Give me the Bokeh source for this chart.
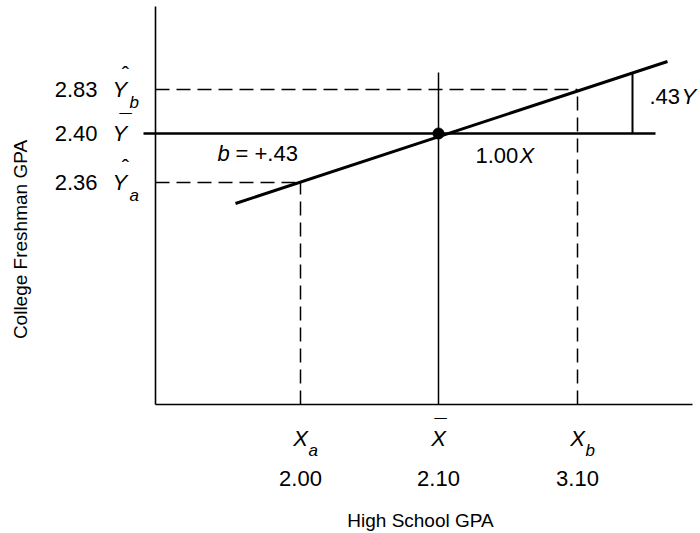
from bokeh.plotting import figure
from bokeh.models import Range1d, ColumnDataSource
from bokeh.core.properties import value
from bokeh.embed import file_html
from bokeh.resources import INLINE

# ---- data (schematic diagram units) ----
x_tick_labels = ["2.00", "2.10", "3.10"]
x_symbols = ["X", "X", "X"]
x_accents = ["", "\u00AF", ""]
x_subscripts = ["a", "", "b"]
x_marks = [145, 283, 422]          # Xa, X-bar, Xb

y_tick_labels = ["2.83", "2.40", "2.36"]
y_symbols = ["Y", "Y", "Y"]
y_accents = ["\u02C6", "\u00AF", "\u02C6"]
y_subscripts = ["b", "", "a"]
y_marks = [315, 271, 222]          # Yb-hat, Y-bar, Ya-hat

reg_x = [80, 512]                  # regression line end points
reg_y = [201, 343]
axis_x_end = 537
axis_y_end = 398

FONT = "Liberation Sans"
LAB = "22px"
SUB = "17px"

HAT = "\u02C6"

p = figure(width=700, height=533, x_range=Range1d(-155, 545), y_range=Range1d(-129, 404),
           x_axis_type=None, y_axis_type=None, toolbar_location=None,
           output_backend="svg", min_border=0, outline_line_color=None)
p.grid.visible = False

xa, xbar, xb = x_marks
yb, ybar, ya = y_marks

# axes
p.line([0, 0], [0, axis_y_end], line_color="black", line_width=1.6)
p.line([0, axis_x_end], [0, 0], line_color="black", line_width=1.6)

# Y-bar horizontal line
p.line([-12, 500], [ybar, ybar], line_color="black", line_width=2.6)

# regression line
p.line(reg_x, reg_y, line_color="black", line_width=3)

slope = (reg_y[1] - reg_y[0]) / (reg_x[1] - reg_x[0])
def reg_at(x):
    return reg_y[0] + slope * (x - reg_x[0])

# X-bar vertical solid line
p.line([xbar, xbar], [0, 332], line_color="black", line_width=1.5)

# dashed guides
dash = "14 7"
p.line([0, xb], [yb, yb], line_color="black", line_width=1.5, line_dash=dash)
p.line([xb, xb], [0, yb], line_color="black", line_width=1.5, line_dash=dash)
p.line([0, xa], [ya, ya], line_color="black", line_width=1.5, line_dash=dash)
p.line([xa, xa], [0, ya], line_color="black", line_width=1.5, line_dash=dash)

# .43Y rise segment
p.line([477, 477], [ybar, reg_at(477)], line_color="black", line_width=2)

# mean point
p.scatter([xbar], [ybar], size=11, color="black")

# y labels
ysrc = ColumnDataSource(dict(y=y_marks, lab=y_tick_labels, sym=y_symbols, acc=y_accents,
                             sub=y_subscripts, suby=[m - 13 for m in y_marks],
                             accy=[m + (15 if a == HAT else 11) for m, a in zip(y_marks, y_accents)]))
p.text(x=-58, y="y", text="lab", source=ysrc, text_align="right", text_baseline="middle",
       text_font=value(FONT), text_font_size=LAB, text_color="black")
p.text(x=-43, y="y", text="sym", source=ysrc, text_align="left", text_baseline="middle",
       text_font=value(FONT), text_font_style="italic", text_font_size=LAB, text_color="black")
p.text(x=-30, y="accy", text="acc", source=ysrc, text_align="center", text_baseline="middle",
       text_font=value(FONT), text_font_size=LAB, text_color="black")
p.text(x=-26, y="suby", text="sub", source=ysrc, text_align="left", text_baseline="middle",
       text_font=value(FONT), text_font_style="italic", text_font_size=SUB, text_color="black")

# x labels
xsrc = ColumnDataSource(dict(x=x_marks, lab=x_tick_labels, sym=x_symbols, acc=x_accents,
                             sub=x_subscripts, subx=[m + 8 for m in x_marks],
                             accx=[m + 2 for m in x_marks]))
p.text(x="x", y=-74, text="lab", source=xsrc, text_align="center", text_baseline="middle",
       text_font=value(FONT), text_font_size=LAB, text_color="black")
p.text(x="x", y=-34, text="sym", source=xsrc, text_align="center", text_baseline="middle",
       text_font=value(FONT), text_font_style="italic", text_font_size=LAB, text_color="black")
p.text(x="accx", y=-23, text="acc", source=xsrc, text_align="center", text_baseline="middle",
       text_font=value(FONT), text_font_size=LAB, text_color="black")
p.text(x="subx", y=-46, text="sub", source=xsrc, text_align="left", text_baseline="middle",
       text_font=value(FONT), text_font_style="italic", text_font_size=SUB, text_color="black")

# annotations
p.text(x=[62], y=[251], text=["b"], text_align="left", text_baseline="middle",
       text_font=value(FONT), text_font_style="italic", text_font_size=LAB, text_color="black")
p.text(x=[80], y=[251], text=["= +.43"], text_align="left", text_baseline="middle",
       text_font=value(FONT), text_font_size=LAB, text_color="black")
p.text(x=[320], y=[249], text=["1.00"], text_align="left", text_baseline="middle",
       text_font=value(FONT), text_font_size=LAB, text_color="black")
p.text(x=[364], y=[249], text=["X"], text_align="left", text_baseline="middle",
       text_font=value(FONT), text_font_style="italic", text_font_size=LAB, text_color="black")
p.text(x=[494], y=[308], text=[".43"], text_align="left", text_baseline="middle",
       text_font=value(FONT), text_font_size=LAB, text_color="black")
p.text(x=[526], y=[308], text=["Y"], text_align="left", text_baseline="middle",
       text_font=value(FONT), text_font_style="italic", text_font_size=LAB, text_color="black")

# axis titles
p.text(x=[265], y=[-116], text=["High School GPA"], text_align="center", text_baseline="middle",
       text_font=value(FONT), text_font_size="19px", text_color="black")
p.text(x=[-135], y=[165], text=["College Freshman GPA"], text_align="center", text_baseline="middle",
       angle=1.5708, text_font=value(FONT), text_font_size="19px", text_color="black")

open("out.html", "w").write(file_html(p, INLINE))
